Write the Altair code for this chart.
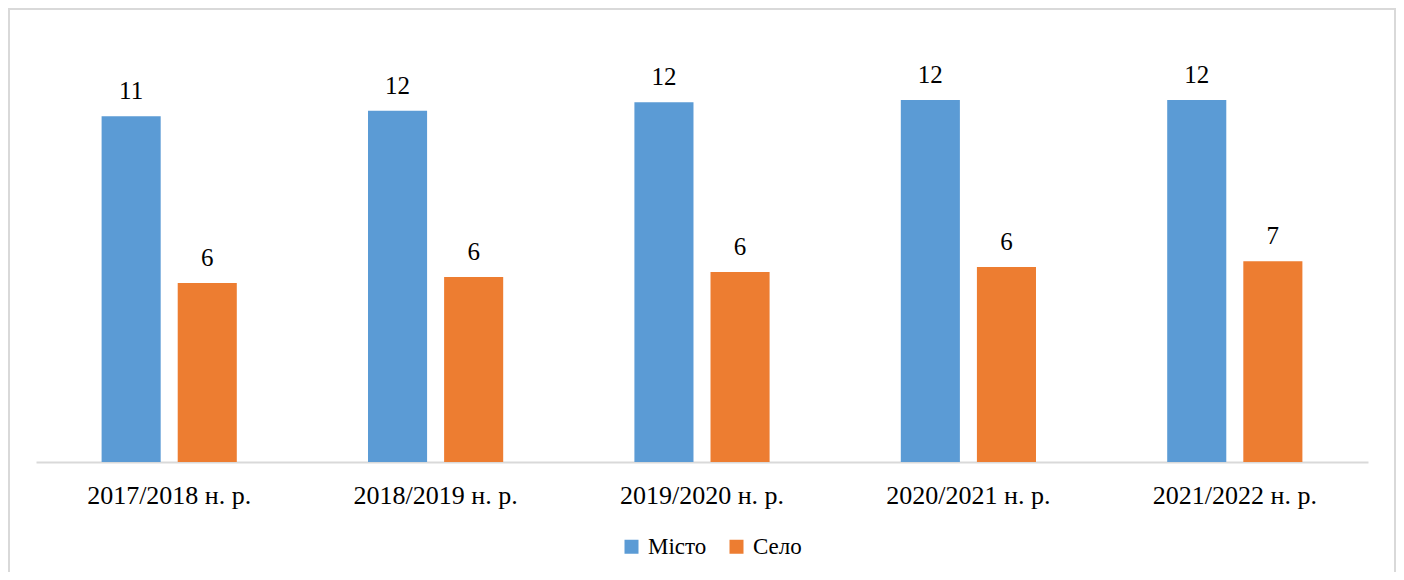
import altair as alt
import pandas as pd

years = ["2017/2018 н. р.", "2018/2019 н. р.", "2019/2020 н. р.", "2020/2021 н. р.", "2021/2022 н. р."]
series = ["Місто", "Село"]
misto = [11.42, 11.6, 11.88, 11.95, 11.95]
selo = [5.91, 6.11, 6.27, 6.44, 6.63]
colors = ["#5B9BD5", "#ED7D31"]

rows = []
for i, y in enumerate(years):
    rows.append({"year": y, "series": series[0], "value": misto[i]})
    rows.append({"year": y, "series": series[1], "value": selo[i]})
df = pd.DataFrame(rows)

FONT = "Liberation Serif"
W, H = 1332, 424

x_enc = alt.X("year:N", sort=years, title=None,
              scale=alt.Scale(paddingInner=0, paddingOuter=0),
              axis=alt.Axis(labelAngle=0, ticks=False, domainColor="#D9D9D9", domainWidth=2,
                            labelFont=FONT, labelFontSize=26, labelColor="#000000",
                            labelBaseline="alphabetic", labelPadding=41, grid=False))
xo_enc = alt.XOffset("series:N", sort=series,
                     scale=alt.Scale(paddingInner=0.2237, paddingOuter=0.862))
y_enc = alt.Y("value:Q", title=None, scale=alt.Scale(domain=[0, 14], nice=False),
              axis=None)

base = alt.Chart(df)

bars = base.mark_bar().encode(
    x=x_enc,
    xOffset=xo_enc,
    y=y_enc,
    color=alt.Color("series:N", sort=series,
                    scale=alt.Scale(domain=series, range=colors),
                    legend=alt.Legend(title=None, orient="none", direction="horizontal",
                                      legendX=584, legendY=497, symbolType="square",
                                      symbolSize=196, symbolStrokeWidth=0,
                                      labelFont=FONT, labelFontSize=23, labelColor="#000000",
                                      labelOffset=5, columnPadding=18, padding=0)),
)

labels = base.mark_text(font=FONT, fontSize=25, color="#000000",
                        baseline="alphabetic", dy=-17).encode(
    x=x_enc,
    xOffset=xo_enc,
    y=y_enc,
    text=alt.Text("value:Q", format=".0f"),
)

frame = alt.Chart(pd.DataFrame({"a": [0]})).mark_rect(
    fill=None, stroke="#D9D9D9", strokeWidth=2
).encode(
    x=alt.value(-27), x2=alt.value(1359),
    y=alt.value(-29), y2=alt.value(560),
)

chart = alt.layer(frame, bars, labels).properties(
    width=W, height=H,
    padding={"left": 28, "right": 28, "top": 30, "bottom": 110},
    autosize=alt.AutoSizeParams(type="none"),
    background="#FFFFFF",
).configure(font=FONT).configure_view(strokeWidth=0, stroke="transparent").configure_legend(
    labelFont=FONT, labelFontSize=23, labelColor="#000000"
)

chart.save("out.html", embed_options={"renderer": "svg", "actions": False})
